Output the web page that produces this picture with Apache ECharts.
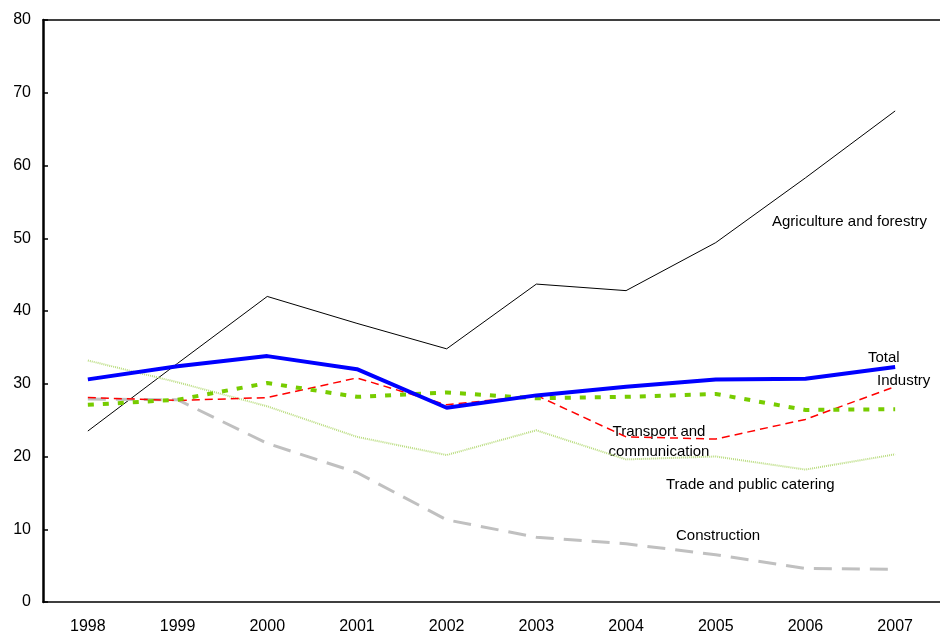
<!DOCTYPE html>
<html>
<head>
<meta charset="utf-8">
<script src="https://cdn.jsdelivr.net/npm/echarts@6/dist/echarts.min.js"></script>
<style>
  html, body { margin: 0; padding: 0; background: #fff; }
  #chart { width: 940px; height: 635px; }
</style>
</head>
<body>
<div id="chart"></div>
<script>
const years = ['1998', '1999', '2000', '2001', '2002', '2003', '2004', '2005', '2006', '2007']
const agriculture = [23.5, 32.8, 42.0, 38.3, 34.8, 43.7, 42.8, 49.4, 58.3, 67.5]
const total = [30.6, 32.4, 33.8, 32.0, 26.7, 28.4, 29.6, 30.6, 30.7, 32.3]
const industry = [28.1, 27.7, 28.1, 30.8, 27.1, 28.4, 22.7, 22.4, 25.1, 29.6]
const transport = [27.1, 27.8, 30.1, 28.2, 28.8, 28.0, 28.2, 28.6, 26.4, 26.5]
const trade = [33.2, 30.2, 26.9, 22.7, 20.2, 23.6, 19.6, 20.0, 18.2, 20.3]
const construction = [27.9, 27.8, 21.8, 17.8, 11.3, 8.9, 8.0, 6.5, 4.6, 4.5]

const chart = echarts.init(document.getElementById('chart'))

// 线条样式
function line(name, data, color, width, type) {
  return {
    name: name,
    type: 'line',
    data: data,
    symbol: 'none',
    silent: true,
    lineStyle: { color: color, width: width, type: type }
  }
}

const txt = { fill: '#000', fontSize: 15, fontFamily: 'Liberation Sans, Arial, sans-serif' }

chart.setOption({
  animation: false,
  grid: { left: 43, top: 20, right: -3, bottom: 33 },
  xAxis: [{
    type: 'category',
    data: years,
    boundaryGap: true,
    axisLine: { lineStyle: { color: '#000', width: 1.5 } },
    axisTick: { inside: true, length: 5, lineStyle: { color: '#000', width: 1.5 } },
    axisLabel: { color: '#000', fontSize: 16, margin: 17, fontFamily: 'Liberation Sans, Arial, sans-serif' }
  }, {
    type: 'category',
    data: years,
    position: 'top',
    axisLine: { lineStyle: { color: '#000', width: 1.5 } },
    axisTick: { show: false },
    axisLabel: { show: false }
  }],
  yAxis: {
    type: 'value',
    min: 0,
    max: 80,
    interval: 10,
    axisLine: { show: true, lineStyle: { color: '#000', width: 2.5 } },
    axisTick: { show: true, inside: true, length: 5, lineStyle: { color: '#000', width: 1.5 } },
    splitLine: { show: false },
    axisLabel: { color: '#000', fontSize: 16, margin: 12, fontFamily: 'Liberation Sans, Arial, sans-serif' }
  },
  series: [
    line('Agriculture and forestry', agriculture, '#000', 1, 'solid'),
    line('Trade and public catering', trade, '#B9DC7E', 2, [1, 1]),
    line('Construction', construction, '#C0C0C0', 3, [18, 10]),
    line('Industry', industry, '#FF0000', 1.5, [8, 5]),
    line('Transport and communication', transport, '#77CC00', 4, [6, 9]),
    line('Total', total, '#0000FF', 4, 'solid')
  ],
  graphic: [
    { type: 'text', left: 772, top: 214, style: Object.assign({ text: 'Agriculture and forestry' }, txt) },
    { type: 'text', left: 868, top: 350, style: Object.assign({ text: 'Total' }, txt) },
    { type: 'text', left: 877, top: 373, style: Object.assign({ text: 'Industry' }, txt) },
    { type: 'text', x: 659, y: 422, style: Object.assign({ text: 'Transport and\ncommunication', align: 'center', verticalAlign: 'top', lineHeight: 20 }, txt) },
    { type: 'text', left: 666, top: 477, style: Object.assign({ text: 'Trade and public catering' }, txt) },
    { type: 'text', left: 676, top: 528, style: Object.assign({ text: 'Construction' }, txt) }
  ]
})
</script>
</body>
</html>
